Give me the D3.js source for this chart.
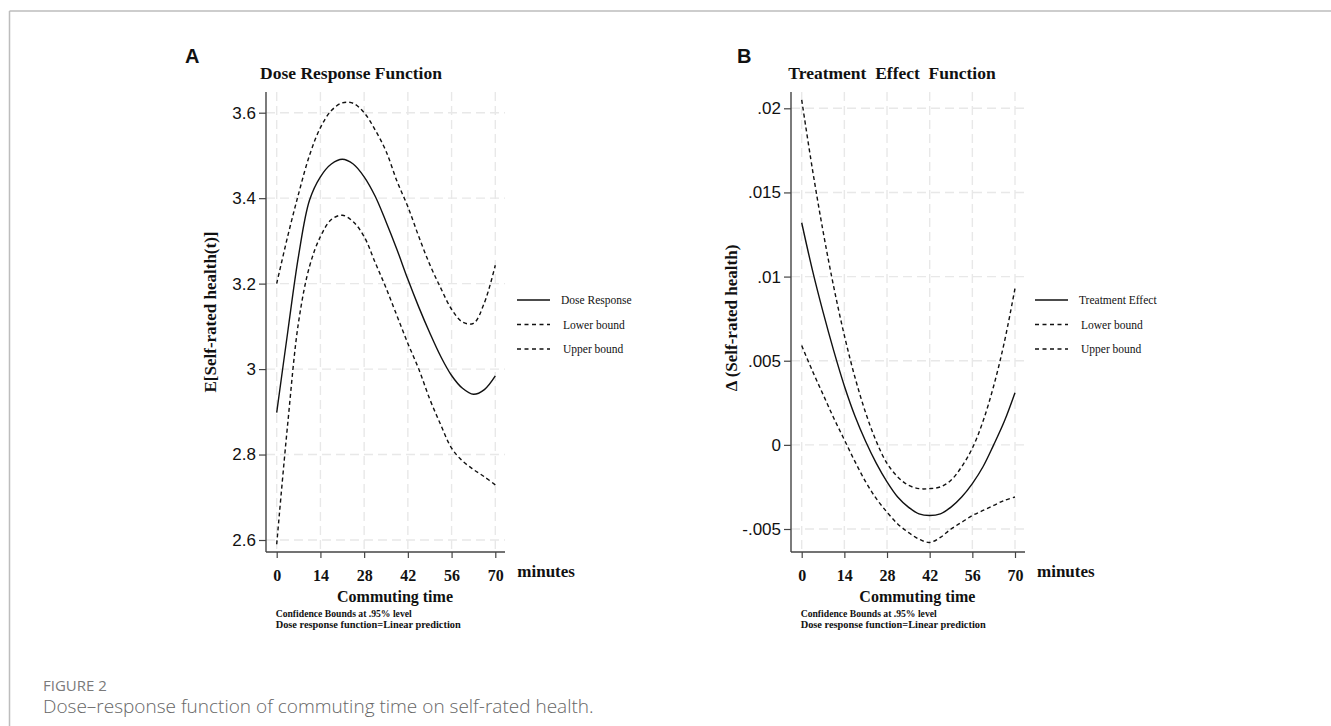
<!DOCTYPE html>
<html>
<head>
<meta charset="utf-8">
<script src="https://cdn.jsdelivr.net/npm/d3@7"></script>
<style>
  body { margin: 0; background: #fff; }
  svg { display: block; }
</style>
</head>
<body>
<svg id="main-svg" width="1331" height="726"></svg>
<script>
// commuting time (minutes) at which the curves were read
var minutes = [0, 3.5, 7, 10.5, 14, 17.5, 21, 24.5, 28, 31.5, 35, 38.5, 42, 45.5, 49, 52.5, 56, 59.5, 63, 66.5, 70];

// panel A : dose response function
var doseResponse = [2.898, 3.085, 3.265, 3.395, 3.45, 3.48, 3.491, 3.48, 3.45, 3.405, 3.345, 3.28, 3.21, 3.145, 3.085, 3.03, 2.985, 2.955, 2.941, 2.952, 2.984];
var doseLower    = [2.59, 2.87, 3.11, 3.24, 3.31, 3.35, 3.36, 3.345, 3.31, 3.25, 3.19, 3.125, 3.06, 3.0, 2.93, 2.87, 2.815, 2.785, 2.765, 2.748, 2.729];
var doseUpper    = [3.2, 3.31, 3.41, 3.5, 3.565, 3.605, 3.623, 3.622, 3.6, 3.56, 3.51, 3.44, 3.38, 3.31, 3.245, 3.19, 3.14, 3.11, 3.107, 3.155, 3.243];

// panel B : treatment effect function
var treatEffect = [0.0132, 0.0104, 0.0079, 0.0056, 0.0035, 0.0017, 0.0002, -0.0011, -0.0022, -0.0031, -0.0037, -0.0041, -0.0042, -0.0041, -0.0037, -0.0031, -0.0023, -0.0013, 0.0000, 0.0014, 0.0031];
var treatLower  = [0.0059, 0.0044, 0.0030, 0.0016, 0.0003, -0.0010, -0.0022, -0.0032, -0.0040, -0.0047, -0.0052, -0.0056, -0.0058, -0.0055, -0.0050, -0.0046, -0.0042, -0.0039, -0.0036, -0.0033, -0.0031];
var treatUpper  = [0.0205, 0.0164, 0.0127, 0.0094, 0.0065, 0.0040, 0.0019, 0.0002, -0.0011, -0.0019, -0.0024, -0.0026, -0.0026, -0.0025, -0.0021, -0.0013, -0.0002, 0.0014, 0.0035, 0.0061, 0.0093];

var xTicks = [0, 14, 28, 42, 56, 70];
var doseTicks = [2.6, 2.8, 3, 3.2, 3.4, 3.6];
var treatTicks = [-0.005, 0, 0.005, 0.01, 0.015, 0.02];

var doseLegend = ["Dose Response", "Lower bound", "Upper bound"];
var treatLegend = ["Treatment Effect", "Lower bound", "Upper bound"];
var footNotes = ["Confidence Bounds at .95% level", "Dose response function=Linear prediction"];
var footWidths = [136, 185];

var serif = "'Liberation Serif', 'Times New Roman', serif";
var sans = "'Liberation Sans', Arial, sans-serif";
var captionFont = "'Open Sans', 'Noto Sans', sans-serif";

var svg = d3.select("#main-svg");

// card frame
svg.append("line").attr("x1", 9.5).attr("y1", 11).attr("x2", 1331).attr("y2", 11)
   .style("stroke", "#bdbdbd").style("stroke-width", 1.5);
svg.append("line").attr("x1", 9.5).attr("y1", 11).attr("x2", 9.5).attr("y2", 726)
   .style("stroke", "#bdbdbd").style("stroke-width", 1.5);

function drawPanel(cfg) {
  var g = svg.append("g");

  var x = d3.scaleLinear().domain([0, 70]).range(cfg.xRange);
  var y = d3.scaleLinear().domain(cfg.yDomain).range(cfg.yRange);

  // grid
  g.append("g").selectAll("line").data(cfg.yTicks).enter().append("line")
    .attr("x1", cfg.box.left).attr("x2", cfg.box.right)
    .attr("y1", function(d) { return y(d); }).attr("y2", function(d) { return y(d); })
    .style("stroke", "#e8e8e8").style("stroke-width", 1.4).style("stroke-dasharray", "9,5");
  g.append("g").selectAll("line").data(xTicks).enter().append("line")
    .attr("y1", cfg.box.top).attr("y2", cfg.box.bottom)
    .attr("x1", function(d) { return x(d); }).attr("x2", function(d) { return x(d); })
    .style("stroke", "#e8e8e8").style("stroke-width", 1.4).style("stroke-dasharray", "9,5");

  // axes
  var yAxis = g.append("g").attr("transform", "translate(" + cfg.box.left + ",0)")
    .call(d3.axisLeft(y).tickValues(cfg.yTicks).tickFormat(cfg.yFormat).tickSize(7).tickSizeOuter(0).tickPadding(3));
  yAxis.select(".domain").remove();
  yAxis.selectAll("line").style("stroke", "#444").style("stroke-width", 1.2);
  yAxis.selectAll("text").style("font-family", sans).style("font-size", "17px").style("fill", "#111");

  var xAxis = g.append("g").attr("transform", "translate(0," + cfg.box.bottom + ")")
    .call(d3.axisBottom(x).tickValues(xTicks).tickFormat(d3.format("d")).tickSize(6).tickSizeOuter(0));
  xAxis.select(".domain").remove();
  xAxis.selectAll("line").style("stroke", "#444").style("stroke-width", 1.2);
  xAxis.selectAll("text").attr("y", 29).attr("dy", 0)
    .style("font-family", serif).style("font-weight", "bold").style("font-size", "16px").style("fill", "#111");

  g.append("line").attr("x1", cfg.box.left).attr("x2", cfg.box.left)
    .attr("y1", cfg.box.top).attr("y2", cfg.box.bottom)
    .style("stroke", "#444").style("stroke-width", 1.4);
  g.append("line").attr("x1", cfg.box.left).attr("x2", cfg.box.right)
    .attr("y1", cfg.box.bottom).attr("y2", cfg.box.bottom)
    .style("stroke", "#444").style("stroke-width", 1.4);

  // curves
  var line = d3.line()
    .x(function(d, i) { return x(minutes[i]); })
    .y(function(d) { return y(d); })
    .curve(d3.curveCatmullRom.alpha(0.5));

  cfg.series.forEach(function(s, i) {
    g.append("path").datum(s)
      .attr("d", line)
      .style("fill", "none").style("stroke", "#111").style("stroke-width", 1.4)
      .style("stroke-dasharray", i == 0 ? null : "4,3");
  });

  // legend
  cfg.legend.forEach(function(label, i) {
    var ly = cfg.legendY + i * 24.5;
    g.append("line").attr("x1", cfg.legendX).attr("x2", cfg.legendX + 33)
      .attr("y1", ly).attr("y2", ly)
      .style("stroke", "#111").style("stroke-width", 1.4)
      .style("stroke-dasharray", i == 0 ? null : "4,3.5");
    g.append("text").attr("x", cfg.legendX + (i == 0 ? 44 : 46)).attr("y", ly + 4)
      .style("font-family", serif).style("font-size", "11.5px").style("fill", "#111")
      .text(label);
  });

  // titles
  g.append("text").attr("x", cfg.titleX).attr("y", 79)
    .attr("text-anchor", "middle")
    .style("white-space", "pre")
    .style("font-family", serif).style("font-weight", "bold").style("font-size", "17.5px").style("fill", "#111")
    .text(cfg.title);

  g.append("text").attr("x", cfg.letterX).attr("y", 63)
    .style("font-family", sans).style("font-weight", "bold").style("font-size", "20px").style("fill", "#111")
    .text(cfg.letter);

  g.append("text")
    .attr("transform", "translate(" + cfg.yLabelX + "," + cfg.yLabelY + ") rotate(-90)")
    .attr("text-anchor", "middle")
    .style("font-family", serif).style("font-weight", "bold").style("font-size", "17px").style("fill", "#111")
    .text(cfg.yLabel);

  g.append("text").attr("x", x(70) + 22).attr("y", 577)
    .style("font-family", serif).style("font-weight", "bold").style("font-size", "17px").style("fill", "#111")
    .text("minutes");

  g.append("text").attr("x", (x(0) + x(70)) / 2 + 9).attr("y", 602)
    .attr("text-anchor", "middle")
    .style("font-family", serif).style("font-weight", "bold").style("font-size", "16px").style("fill", "#111")
    .text("Commuting time");

  g.append("g").selectAll("text").data(footNotes).enter().append("text")
    .attr("x", x(0) - 1).attr("y", function(d, i) { return 617 + i * 11; })
    .attr("textLength", function(d, i) { return footWidths[i]; })
    .attr("lengthAdjust", "spacingAndGlyphs")
    .style("font-family", serif).style("font-weight", "bold").style("font-size", "10px").style("fill", "#111")
    .text(function(d) { return d; });
}

drawPanel({
  letter: "A", letterX: 185,
  title: "Dose Response Function", titleX: 351,
  yLabel: "E[Self-rated health(t)]", yLabelX: 216, yLabelY: 312,
  box: {left: 266, right: 505, top: 92, bottom: 552},
  xRange: [276.7, 495.3],
  yDomain: [2.6, 3.6], yRange: [540, 112.7],
  yTicks: doseTicks,
  yFormat: function(d) { return String(d); },
  series: [doseResponse, doseLower, doseUpper],
  legend: doseLegend, legendX: 517, legendY: 300
});

drawPanel({
  letter: "B", letterX: 737,
  title: "Treatment  Effect  Function", titleX: 892,
  yLabel: "\u0394 (Self-rated health)", yLabelX: 737, yLabelY: 318,
  box: {left: 791, right: 1025, top: 92, bottom: 552},
  xRange: [801.7, 1015],
  yDomain: [-0.005, 0.02], yRange: [529, 108.3],
  yTicks: treatTicks,
  yFormat: function(d) { return String(d).replace("0.", "."); },
  series: [treatEffect, treatLower, treatUpper],
  legend: treatLegend, legendX: 1035, legendY: 300
});

// caption
svg.append("text").attr("x", 43).attr("y", 691)
  .style("font-family", captionFont).style("font-size", "15px").style("fill", "#7a7a7a")
  .text("FIGURE 2");
svg.append("text").attr("x", 43).attr("y", 713)
  .style("font-family", captionFont).style("font-size", "19px").style("font-weight", 300).style("fill", "#666")
  .text("Dose\u2013response function of commuting time on self-rated health.");
</script>
</body>
</html>
